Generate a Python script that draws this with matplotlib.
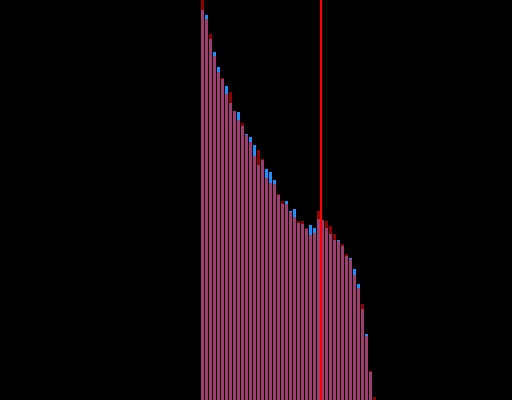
import matplotlib
matplotlib.use("Agg")
import matplotlib.pyplot as plt
import numpy as np

# values (arbitrary units)
blue_values = [390, 385, 361, 348, 333, 321, 314, 297, 289, 288, 274, 266, 263, 255,
               235, 240, 231, 228, 220, 205, 196, 199, 189, 191, 177, 176, 171, 175,
               172, 181, 180, 172, 166, 160, 160, 154, 144, 142, 131, 116, 91, 66, 28, 0]
red_values = [400, 381, 366, 344, 328, 322, 306, 308, 289, 280, 277, 265, 258, 244,
              250, 241, 222, 217, 216, 206, 199, 196, 188, 183, 179, 179, 172, 165,
              167, 189, 180, 179, 174, 166, 159, 156, 146, 141, 125, 112, 96, 64, 29, 3]
marker_position = 29.5

x = np.arange(len(blue_values))

fig = plt.figure(figsize=(5.12, 4.0), dpi=100, facecolor="black")
ax = fig.add_axes([0, 0, 1, 1])
ax.set_facecolor("black")

ax.bar(x, blue_values, width=0.75, color="#1E90FF", linewidth=0, zorder=1)
ax.bar(x, red_values, width=0.75, color="red", alpha=0.57, linewidth=0, zorder=2)
ax.axvline(marker_position, color="red", linewidth=1.5, zorder=3)

ax.set_xlim(-50.625, 77.375)
ax.set_ylim(0, 400)
ax.axis("off")

fig.savefig("out.png", dpi=100, facecolor="black")
